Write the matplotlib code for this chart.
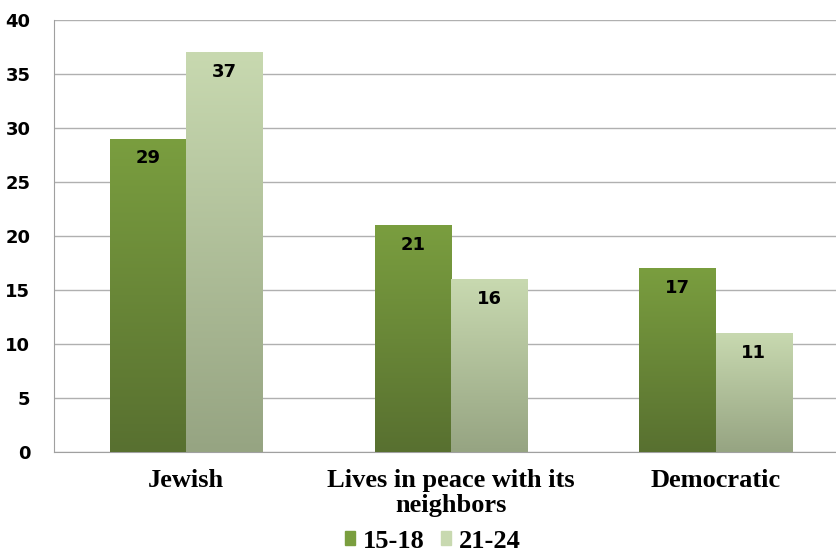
import matplotlib.pyplot as plt
import numpy as np
from matplotlib.colors import LinearSegmentedColormap
from matplotlib.patches import Rectangle

categories = ["Jewish", "Lives in peace with its\nneighbors", "Democratic"]
series_names = ["15-18", "21-24"]
values_young = [29, 21, 17]
values_old = [37, 16, 11]
yticks = [0, 5, 10, 15, 20, 25, 30, 35, 40]

# gradient colours (top, bottom) for each series
grad_young = ("#7a9e3f", "#587030")
grad_old = ("#c8d9b0", "#96a482")

fig = plt.figure(figsize=(8.37, 5.53), dpi=100)
ax = fig.add_axes([54 / 837, (553 - 452) / 553, 794 / 837, 432 / 553])

x = np.arange(len(categories))
width = 0.288


def gradient_bars(xpos, vals, colors):
    cmap = LinearSegmentedColormap.from_list("g", [colors[1], colors[0]])
    bars = ax.bar(xpos, vals, width, color=colors[0], zorder=3)
    for bar in bars:
        bx, by = bar.get_x(), bar.get_y()
        bw, bh = bar.get_width(), bar.get_height()
        grad = np.linspace(0, 1, 256).reshape(-1, 1)
        im = ax.imshow(grad, cmap=cmap, origin="lower", aspect="auto",
                       extent=[bx, bx + bw, by, by + bh], zorder=4)
        im.set_clip_path(Rectangle((bx, by), bw, bh, transform=ax.transData))
        ax.text(bx + bw / 2, bh - 1.8, str(int(bh)), ha="center", va="center",
                fontsize=13, fontweight="bold", color="black", zorder=5)
    return bars


b1 = gradient_bars(x - width / 2, values_young, grad_young)
b2 = gradient_bars(x + width / 2, values_old, grad_old)

ax.set_xlim(-0.5, 2.5)
ax.set_ylim(0, 40)
ax.set_yticks(yticks)
ax.set_yticklabels([str(t) for t in yticks], fontsize=13, fontweight="bold")
ax.yaxis.grid(True, color="#b0b0b0", linewidth=1, zorder=0)
ax.set_axisbelow(True)
ax.tick_params(axis="y", length=0, pad=17)
ax.tick_params(axis="x", length=0, pad=12)
ax.set_xticks(x)
ax.set_xticklabels(categories, fontsize=19, fontweight="bold",
                   family="Liberation Serif", linespacing=1.12)
for s in ["top", "right"]:
    ax.spines[s].set_visible(False)
for s in ["left", "bottom"]:
    ax.spines[s].set_color("#a0a0a0")

handles = [Rectangle((0, 0), 1, 1, color=grad_young[0]),
           Rectangle((0, 0), 1, 1, color=grad_old[0])]
fig.legend(handles, series_names, loc="center", bbox_to_anchor=(433 / 837, 1 - 541 / 553),
           ncol=2, frameon=False, handlelength=0.4, handleheight=0.4,
           handletextpad=0.3, columnspacing=0.6,
           prop={"family": "Liberation Serif", "weight": "bold", "size": 19})

fig.savefig("out.png", dpi=100)
